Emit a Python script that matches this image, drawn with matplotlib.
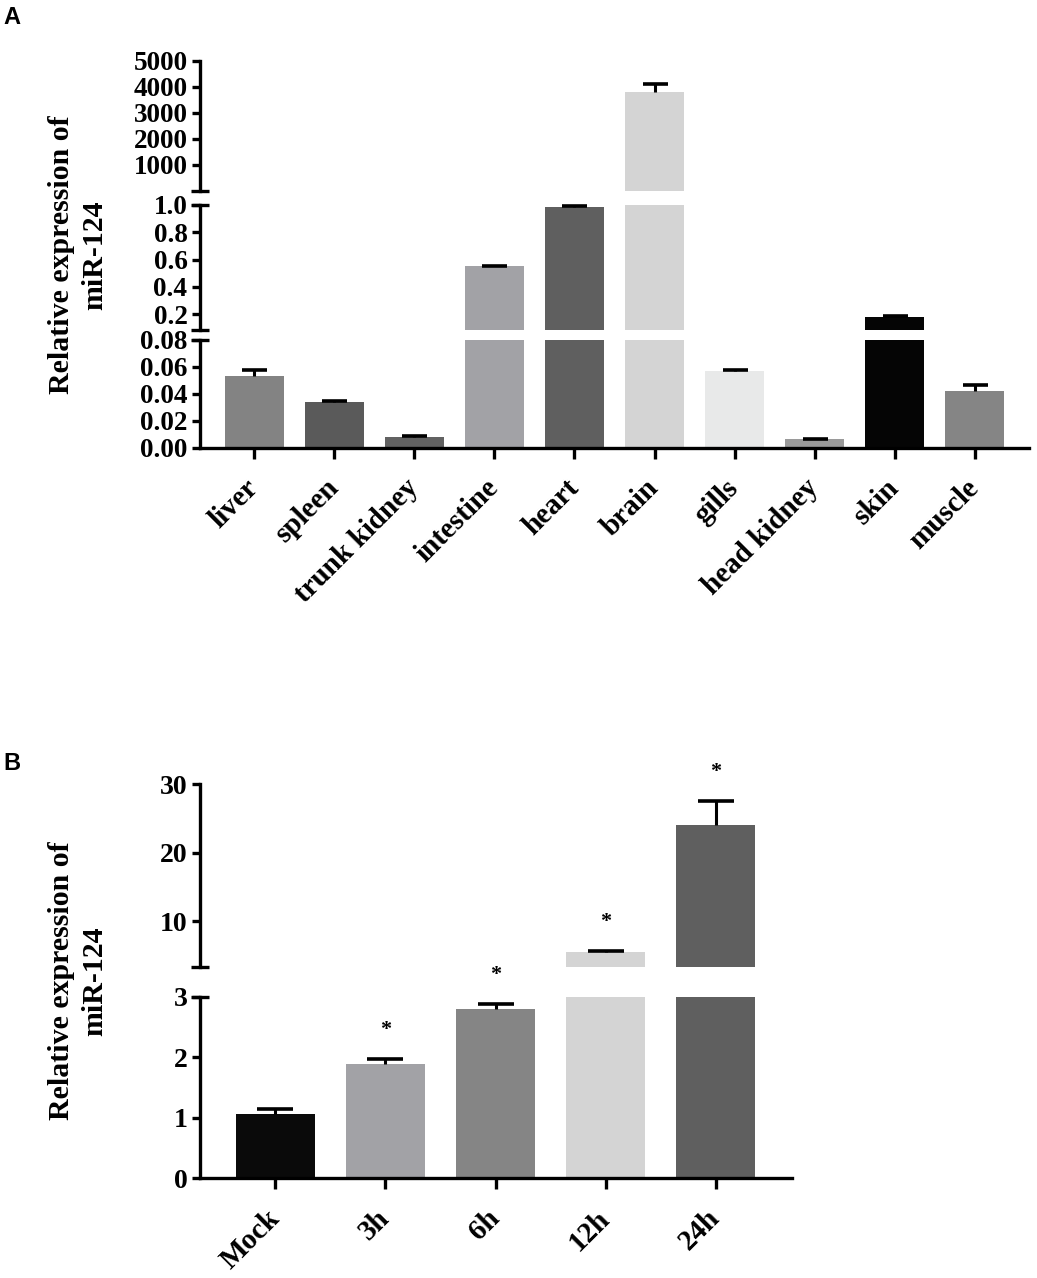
import matplotlib
matplotlib.use('Agg')
import matplotlib.pyplot as plt
import numpy as np

plt.rcParams['font.family'] = ['Liberation Serif', 'DejaVu Serif']
plt.rcParams['font.weight'] = 'bold'

# panel A: tissue distribution
tissues = ['liver', 'spleen', 'trunk kidney', 'intestine', 'heart',
           'brain', 'gills', 'head kidney', 'skin', 'muscle']
tissue_mean = [0.053, 0.034, 0.0077, 0.55, 0.985, 3820, 0.057, 0.006, 0.18, 0.042]
tissue_err = [0.005, 0.0006, 0.0007, 0.006, 0.006, 290, 0.0005, 0.0005, 0.006, 0.0045]
tissue_colors = ['#838383', '#5a5a5a', '#626262', '#a2a2a6', '#5f5f5f',
                 '#d4d4d4', '#e8e9e9', '#9a9a9a', '#050505', '#858585']

# panel B: time course after infection
times = ['Mock', '3h', '6h', '12h', '24h']
time_mean = [1.06, 1.89, 2.80, 5.5, 24.0]
time_err = [0.08, 0.08, 0.08, 0.12, 3.5]
time_colors = ['#0a0a0a', '#a2a2a6', '#858585', '#d4d4d4', '#5f5f5f']
time_star = [False, True, True, True, True]

W, H = 1037, 1278
fig = plt.figure(figsize=(W / 100, H / 100), dpi=100)


def box(x0, x1, y_top, y_bot):
    return [x0 / W, 1 - y_bot / H, (x1 - x0) / W, (y_bot - y_top) / H]


def draw_panel(x0, x1, segments, labels, means, errs, colors, width, xlim,
               ytick_size, cap_px, stars=None):
    x = np.arange(len(labels))
    # which segment (counted from the bottom) holds each mean
    n = len(segments)
    home = []
    for m in means:
        for j in range(n - 1, -1, -1):
            if m <= segments[j][3]:
                home.append(j)
                break
    for k, (y_top, y_bot, lo, hi, ticks, fmt) in enumerate(segments):
        ax = fig.add_axes(box(x0, x1, y_top, y_bot))
        ax.bar(x, means, width, color=colors, zorder=2)
        ax.set_xlim(*xlim)
        ax.set_ylim(lo, hi)
        for i in range(len(labels)):
            if home[i] != k:
                continue
            top = means[i] + errs[i]
            ax.plot([x[i], x[i]], [means[i], top], color='black', lw=2.2,
                    zorder=3, clip_on=False, solid_capstyle='butt')
            ax.plot([x[i]], [top], marker='_', markersize=cap_px * 0.72,
                    mew=2.6, color='black', zorder=3, clip_on=False)
            if stars is not None and stars[i]:
                ax.annotate('*', (x[i], top), xytext=(0, 21),
                            textcoords='offset points', ha='center',
                            va='center', fontsize=16)
        ax.set_yticks(ticks)
        ax.set_yticklabels([fmt % t for t in ticks])
        ax.tick_params(axis='y', length=6, width=2.4, labelsize=ytick_size, pad=3)
        for s in ['top', 'right']:
            ax.spines[s].set_visible(False)
        ax.spines['left'].set_linewidth(2.4)
        ax.patch.set_alpha(0)
        last = k == n - 1
        if last:
            ax.spines['bottom'].set_linewidth(2.4)
            ax.set_xticks(x)
            ax.set_xticklabels(labels, rotation=45, ha='right', va='center',
                               rotation_mode='anchor', fontsize=21)
            ax.tick_params(axis='x', length=8, width=2.4, pad=18)
        else:
            ax.spines['bottom'].set_visible(False)
            ax.set_xticks([])
        # break marks on the axis
        half = 9 / (x1 - x0)
        if k > 0:
            ax.plot([-half, half], [1, 1], color='black', lw=2.4,
                    transform=ax.transAxes, clip_on=False, solid_capstyle='butt')
        if not last:
            ax.plot([-half, half], [0, 0], color='black', lw=2.4,
                    transform=ax.transAxes, clip_on=False, solid_capstyle='butt')


segA = [
    (61, 191, 0, 5000, [1000, 2000, 3000, 4000, 5000], '%d'),
    (205, 330, 0.083, 1.0, [0.2, 0.4, 0.6, 0.8, 1.0], '%.1f'),
    (340, 447.5, 0, 0.08, [0, 0.02, 0.04, 0.06, 0.08], '%.2f'),
]
draw_panel(200, 1029, segA, tissues, tissue_mean, tissue_err, tissue_colors,
           0.73, (-0.68, 9.68), 19.5, 25)

segB = [
    (784, 967, 3.3, 30, [10, 20, 30], '%d'),
    (997, 1178, 0, 3, [0, 1, 2, 3], '%d'),
]
draw_panel(200, 792, segB, times, time_mean, time_err, time_colors,
           0.71, (-0.686, 4.695), 20, 36, stars=time_star)

ylab = 'Relative expression of\nmiR-124'
fig.text(78 / W, 1 - 255 / H, ylab, rotation=90, ha='center', va='center',
         multialignment='center', fontsize=21.5, linespacing=1.3)
fig.text(78 / W, 1 - 981 / H, ylab, rotation=90, ha='center', va='center',
         multialignment='center', fontsize=21.5, linespacing=1.3)

fig.text(3 / W, 1 - 24 / H, 'A', family='Liberation Sans', fontsize=17,
         fontweight='bold', ha='left', va='baseline')
fig.text(3 / W, 1 - 770 / H, 'B', family='Liberation Sans', fontsize=17,
         fontweight='bold', ha='left', va='baseline')

fig.savefig('out.png', dpi=100)
